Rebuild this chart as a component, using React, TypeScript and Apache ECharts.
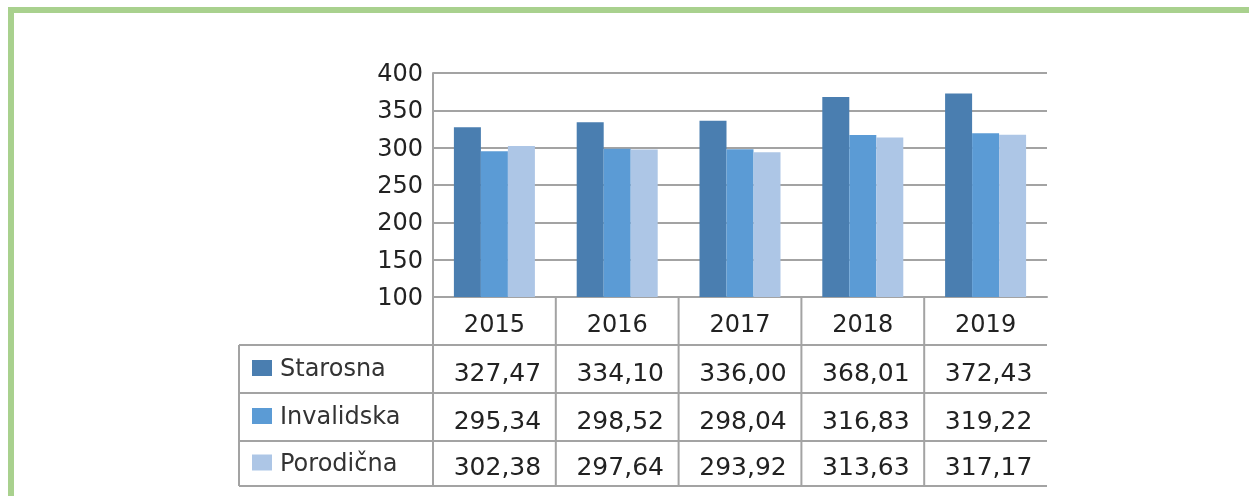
import React, { useEffect, useRef } from "react";
import * as echarts from "echarts";

const categories = ["2015", "2016", "2017", "2018", "2019"];
const seriesNames = ["Starosna", "Invalidska", "Porodična"];
const starosna = [327.47, 334.1, 336.0, 368.01, 372.43];
const invalidska = [295.34, 298.52, 298.04, 316.83, 319.22];
const porodicna = [302.38, 297.64, 293.92, 313.63, 317.17];
const colors = ["#4a7eb0", "#5b9bd5", "#adc6e6"];

const fmt = (v: number) => v.toFixed(2).replace(".", ",");

export default function App() {
  const ref = useRef<HTMLDivElement>(null);
  useEffect(() => {
    if (!ref.current) return;
    const chart = echarts.init(ref.current, null, { renderer: "svg" });
    const W = 1249;
    const gl = 433;
    const gt = 73;
    const gw = 614;
    const gh = 224;
    const gb = gt + gh;
    const colW = gw / categories.length;
    const rowY = [297, 345, 393, 441, 486];
    const tableLeft = 239;
    const lineColor = "#a3a3a3";
    const textColor = "#222";
    const font = "25px 'DejaVu Sans'";
    const values = [starosna, invalidska, porodicna];

    const graphics: any[] = [];
    graphics.push({
      type: "rect",
      shape: { x: 11, y: 10, width: W + 20, height: 600 },
      style: { fill: "none", stroke: "#a9d18e", lineWidth: 6 },
      silent: true,
    });
    for (let r = 1; r <= 4; r++) {
      graphics.push({ type: "line", shape: { x1: tableLeft, y1: rowY[r], x2: gl + gw, y2: rowY[r] }, style: { stroke: lineColor, lineWidth: 2 } });
    }
    graphics.push({ type: "line", shape: { x1: tableLeft, y1: rowY[1], x2: tableLeft, y2: rowY[4] }, style: { stroke: lineColor, lineWidth: 2 } });
    for (let i = 0; i < categories.length; i++) {
      const x = gl + i * colW;
      graphics.push({ type: "line", shape: { x1: x, y1: gb, x2: x, y2: rowY[4] }, style: { stroke: lineColor, lineWidth: 2 } });
    }
    categories.forEach((c, i) => {
      graphics.push({
        type: "text",
        x: gl + (i + 0.5) * colW,
        y: (rowY[0] + rowY[1]) / 2 + 3,
        style: { text: c, font: "24px 'DejaVu Sans'", fill: textColor, textAlign: "center", textVerticalAlign: "middle" },
      });
    });
    values.forEach((arr, r) => {
      arr.forEach((v, i) => {
        graphics.push({
          type: "text",
          x: gl + (i + 0.5) * colW + 3,
          y: (rowY[r + 1] + rowY[r + 2]) / 2 + 3,
          style: { text: fmt(v), font, fill: textColor, textAlign: "center", textVerticalAlign: "middle" },
        });
      });
    });

    const legends = seriesNames.map((n, k) => ({
      orient: "horizontal",
      left: 252,
      top: (rowY[k + 1] + rowY[k + 2]) / 2 - 13,
      padding: 0,
      itemWidth: 20,
      itemHeight: 16,
      icon: "rect",
      selectedMode: false,
      data: [n],
      textStyle: { fontFamily: "DejaVu Sans", fontSize: 24, color: "#333", padding: [0, 0, 0, 3] },
    }));

    chart.setOption({
      animation: false,
      color: colors,
      grid: { left: gl, top: gt, width: gw, height: gh, containLabel: false },
      legend: legends,
      xAxis: {
        type: "category",
        data: categories,
        axisLine: { show: true, lineStyle: { color: lineColor, width: 2 } },
        axisTick: { show: false },
        axisLabel: { show: false },
      },
      yAxis: {
        type: "value",
        min: 100,
        max: 400,
        interval: 50,
        axisLine: { show: true, lineStyle: { color: lineColor, width: 2 } },
        axisTick: { show: false },
        splitLine: { lineStyle: { color: lineColor, width: 2 } },
        axisLabel: { fontFamily: "DejaVu Sans", fontSize: 24, color: textColor, margin: 10 },
      },
      series: seriesNames.map((n, k) => ({
        name: n,
        type: "bar",
        data: values[k],
        barWidth: 27,
        barGap: "0%",
      })),
      graphic: graphics,
    });
    return () => chart.dispose();
  }, []);
  return <div ref={ref} style={{ position: "fixed", left: 0, top: 0, width: 1249, height: 496 }} />;
}
